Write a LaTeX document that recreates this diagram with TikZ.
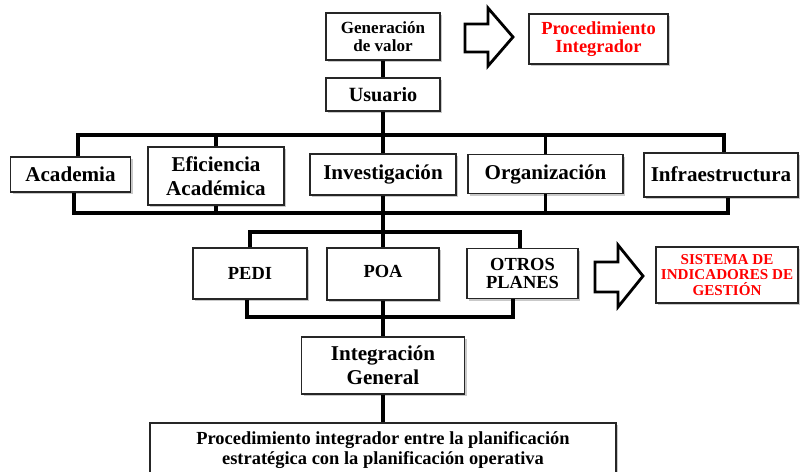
\documentclass[tikz,border=0pt]{standalone}
\usepackage{fontspec}
\setmainfont{Liberation Serif}
\usetikzlibrary{shadows}
\definecolor{goalred}{RGB}{255,0,0}
\begin{document}
\begin{tikzpicture}[x=0.02cm, y=-0.02cm,
  % Box styles
  unit/.style={rectangle, draw=black!85, fill=white, line width=0.7pt,
    align=center, inner sep=0pt,
    drop shadow={shadow xshift=1.3pt, shadow yshift=-1.3pt, opacity=0.3, fill=black!70}},
  goal/.style={unit, text=goalred},
  boxsize/.style 2 args={minimum width=#1*0.02cm, minimum height=#2*0.02cm},
  % Font styles
  ftiny/.style={font=\fontsize{8.6}{8.8}\selectfont\bfseries},
  fsmall/.style={font=\fontsize{9.7}{10.3}\selectfont\bfseries},
  fmid/.style={font=\fontsize{10.5}{10}\selectfont\bfseries},
  fbig/.style={font=\fontsize{12}{13.4}\selectfont\bfseries},
  % Connector styles
  link/.style={draw=black, line width=2.2pt},
  bigarrow/.style={draw=black, fill=white, line width=1.6pt, line join=miter},
]

% Frame
\useasboundingbox (0,0) rectangle (800,471);

% Trunk position and bus levels
\def\trunkx{383}
\def\busa{135}
\def\busb{213}
\def\busc{232}
\def\busd{317}

% --- Top: value generation ---
\node[unit, fsmall, boxsize={114}{47}] (gen) at (\trunkx,36.5) {Generación\\de valor};
\node[goal, fmid, boxsize={139}{50}] (proc) at (598.5,39) {Procedimiento\\Integrador};
\draw[bigarrow] (465,24) -- (488,24) -- (488,8) -- (513,37) -- (488,66)
  -- (488,52) -- (465,52) -- cycle;
\node[unit, fbig, font=\fontsize{11.5}{12}\selectfont\bfseries, boxsize={114}{33}]
  (usu) at (\trunkx,94.5) {Usuario};

% --- Row 1: areas ---
\node[unit, fbig, boxsize={120}{35}] (acad) at (70.5,174.5) {Academia};
\node[unit, fbig, boxsize={136}{58}] (efic) at (216,176) {Eficiencia\\Académica};
\node[unit, fbig, boxsize={146}{41}] (inv) at (\trunkx,174.5) {Investigación};
\node[unit, fbig, boxsize={155}{39}] (org) at (545.5,174) {Organización};
\node[unit, fbig, boxsize={154}{44}] (infra) at (721,175) {\raisebox{1.5pt}{Infraestructura}};

% --- Row 2: plans ---
\node[unit, fmid, boxsize={114}{51}] (pedi) at (250,273.5) {PEDI};
\node[unit, fmid, boxsize={112}{52}] (poa) at (\trunkx,274) {\raisebox{2.5pt}{POA}};
\node[unit, fmid, boxsize={111}{50}] (otros) at (522.5,273.5) {OTROS\\PLANES};
\node[goal, ftiny, boxsize={142}{56}] (sist) at (727,275) {SISTEMA DE\\INDICADORES DE\\GESTIÓN};
\draw[bigarrow] (595,262) -- (618,262) -- (618,245) -- (643,276) -- (618,307)
  -- (618,292) -- (595,292) -- cycle;

% --- Bottom: integration ---
\node[unit, fbig, boxsize={163}{57}] (integ) at (\trunkx,365.5) {Integración\\General};
\node[unit, fmid, font=\fontsize{10.5}{11.3}\selectfont\bfseries, boxsize={466}{54}]
  (final) at (\trunkx,450)
  {Procedimiento integrador entre la planificación\\estratégica con la planificación  operativa};

% Bus points on the trunk
\coordinate (ba) at (\trunkx,\busa);
\coordinate (bb) at (\trunkx,\busb);
\coordinate (bc) at (\trunkx,\busc);
\coordinate (bd) at (\trunkx,\busd);

% Trunk
\draw[link] (gen) -- (usu);
\draw[link] (usu) -- (inv);
\draw[link] (inv) -- (poa);
\draw[link] (poa) -- (integ);
\draw[link] (integ) -- (final);

% Buses round the areas
\draw[link] ([xshift=0.15cm]acad.north) |- (ba) -| ([xshift=0.06cm]infra.north);
\draw[link] (efic.north) -- (efic.north |- ba);
\draw[link] (org.north) -- (org.north |- ba);
\draw[link] ([xshift=0.07cm]acad.south) |- (bb) -| ([xshift=0.14cm]infra.south);
\draw[link] (efic.south) -- (efic.south |- bb);
\draw[link] (org.south) -- (org.south |- bb);

% Buses round the plans
\draw[link] (pedi.north) |- (bc) -| ([xshift=-0.05cm]otros.north);
\draw[link] ([xshift=-0.06cm]pedi.south) |- (bd) -| ([xshift=-0.19cm]otros.south);

\end{tikzpicture}
\end{document}
